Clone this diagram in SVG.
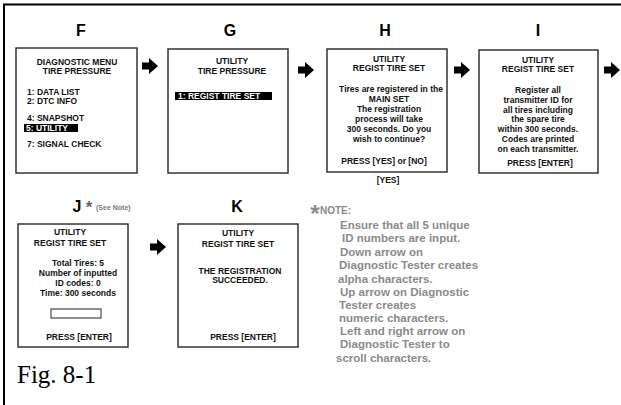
<svg xmlns="http://www.w3.org/2000/svg" width="621" height="405" viewBox="0 0 621 405">
<defs>
<path id="arr" d="M0,-3.5 H7 V-8 L16,0 L7,8 V3.5 H0 Z" fill="#000"/>
</defs>
<style>
.box{fill:#fff;stroke:#333;stroke-width:1.5}
.t{font-family:"Liberation Sans",Arial,sans-serif;font-weight:bold;font-size:8.5px;fill:#111}
.c{text-anchor:middle}
.lbl{font-family:"Liberation Sans",Arial,sans-serif;font-weight:bold;font-size:16px;fill:#000;text-anchor:middle}
.hl{fill:#000}
.w{fill:#fff}
.note{font-family:"Liberation Sans",Arial,sans-serif;font-weight:bold;font-size:11.5px;fill:#8a8a8a}
</style>
<rect width="621" height="405" fill="#fff"/>
<path d="M4,405 V4.5 H621" fill="none" stroke="#000" stroke-width="2"/>

<g id="F">
<text class="lbl" x="81" y="36">F</text>
<rect class="box" x="16" y="48" width="121" height="125"/>
<text class="t c" x="77" y="65">DIAGNOSTIC MENU</text>
<text class="t c" x="77" y="74">TIRE PRESSURE</text>
<text class="t" x="27" y="95">1:  DATA LIST</text>
<text class="t" x="27" y="104">2:  DTC INFO</text>
<text class="t" x="27" y="121">4:  SNAPSHOT</text>
<rect class="hl" x="24" y="124" width="54" height="8"/>
<text class="t w" x="26" y="131">5:  UTILITY</text>
<text class="t" x="27" y="147">7:  SIGNAL CHECK</text>
</g>

<g id="G">
<text class="lbl" x="230" y="36">G</text>
<rect class="box" x="168" y="49" width="120" height="124"/>
<text class="t c" x="232" y="64">UTILITY</text>
<text class="t c" x="232" y="74">TIRE PRESSURE</text>
<rect class="hl" x="175" y="92" width="97" height="8"/>
<text class="t w" x="178" y="99">1:  REGIST TIRE SET</text>
</g>

<g id="H">
<text class="lbl" x="385" y="36">H</text>
<rect class="box" x="327" y="49" width="120" height="123"/>
<text class="t c" x="389" y="62">UTILITY</text>
<text class="t c" x="389" y="71">REGIST TIRE SET</text>
<text class="t c" x="391" y="92">Tires are registered in the</text>
<text class="t c" x="389" y="102">MAIN SET</text>
<text class="t c" x="389" y="112">The registration</text>
<text class="t c" x="389" y="122">process will take</text>
<text class="t c" x="389" y="132">300 seconds. Do you</text>
<text class="t c" x="389" y="142">wish to continue?</text>
<text class="t c" x="384" y="164">PRESS [YES] or [NO]</text>
<text class="t c" x="388" y="183">[YES]</text>
</g>

<g id="I">
<text class="lbl" x="538" y="36">I</text>
<rect class="box" x="479" y="50" width="119" height="123"/>
<text class="t c" x="538" y="63">UTILITY</text>
<text class="t c" x="538" y="72">REGIST TIRE SET</text>
<text class="t c" x="538" y="93">Register all</text>
<text class="t c" x="538" y="103">transmitter ID for</text>
<text class="t c" x="538" y="113">all tires including</text>
<text class="t c" x="538" y="122">the spare tire</text>
<text class="t c" x="538" y="132">within 300 seconds.</text>
<text class="t c" x="538" y="142">Codes are printed</text>
<text class="t c" x="538" y="152">on each transmitter.</text>
<text class="t c" x="540" y="166">PRESS [ENTER]</text>
</g>

<g id="J">
<text class="lbl" x="77" y="212" font-size="17">J</text>
<text x="89" y="213" font-family="Liberation Sans,Arial,sans-serif" font-weight="bold" font-size="17" fill="#666" text-anchor="middle">*</text>
<text x="96" y="210" font-family="Liberation Sans,Arial,sans-serif" font-weight="bold" font-size="7" fill="#777">(See Note)</text>
<rect class="box" x="18" y="224" width="110" height="123"/>
<text class="t c" x="70" y="235">UTILITY</text>
<text class="t c" x="70" y="246">REGIST TIRE SET</text>
<text class="t c" x="78" y="266">Total Tires: 5</text>
<text class="t c" x="78" y="276">Number of inputted</text>
<text class="t c" x="78" y="286">ID codes: 0</text>
<text class="t c" x="78" y="296">Time: 300 seconds</text>
<rect x="51" y="309" width="50" height="9" fill="#fff" stroke="#222" stroke-width="1"/>
<text class="t c" x="79" y="340">PRESS [ENTER]</text>
</g>

<g id="K">
<text class="lbl" x="237" y="212" font-size="17">K</text>
<rect class="box" x="178" y="224" width="120" height="123"/>
<text class="t c" x="238" y="236">UTILITY</text>
<text class="t c" x="238" y="247">REGIST TIRE SET</text>
<text class="t c" x="240" y="274">THE REGISTRATION</text>
<text class="t c" x="240" y="283">SUCCEEDED.</text>
<text class="t c" x="243" y="340">PRESS [ENTER]</text>
</g>

<g id="note">
<text x="315" y="222" font-family="Liberation Sans,Arial,sans-serif" font-weight="bold" font-size="24" fill="#8a8a8a" text-anchor="middle">*</text>
<text x="320" y="214" font-family="Liberation Sans,Arial,sans-serif" font-weight="bold" font-size="10" fill="#8a8a8a">NOTE:</text>
<text class="note" x="340" y="229">Ensure that all 5 unique</text>
<text class="note" x="342" y="242">ID numbers are input.</text>
<text class="note" x="340" y="256">Down arrow on</text>
<text class="note" x="339" y="269">Diagnostic Tester creates</text>
<text class="note" x="338" y="283">alpha characters.</text>
<text class="note" x="340" y="296">Up arrow on Diagnostic</text>
<text class="note" x="339" y="309">Tester creates</text>
<text class="note" x="339" y="322">numeric characters.</text>
<text class="note" x="340" y="335">Left and right arrow on</text>
<text class="note" x="340" y="348">Diagnostic Tester to</text>
<text class="note" x="336" y="362">scroll characters.</text>
</g>

<g id="connectors">
<use href="#arr" x="142" y="66"/>
<use href="#arr" x="298" y="70"/>
<use href="#arr" x="454" y="70"/>
<use href="#arr" x="604" y="70"/>
<use href="#arr" x="150" y="247"/>
</g>

<text x="17" y="383" font-family="Liberation Serif,'Times New Roman',serif" font-size="25" fill="#000">Fig. 8-1</text>
</svg>
